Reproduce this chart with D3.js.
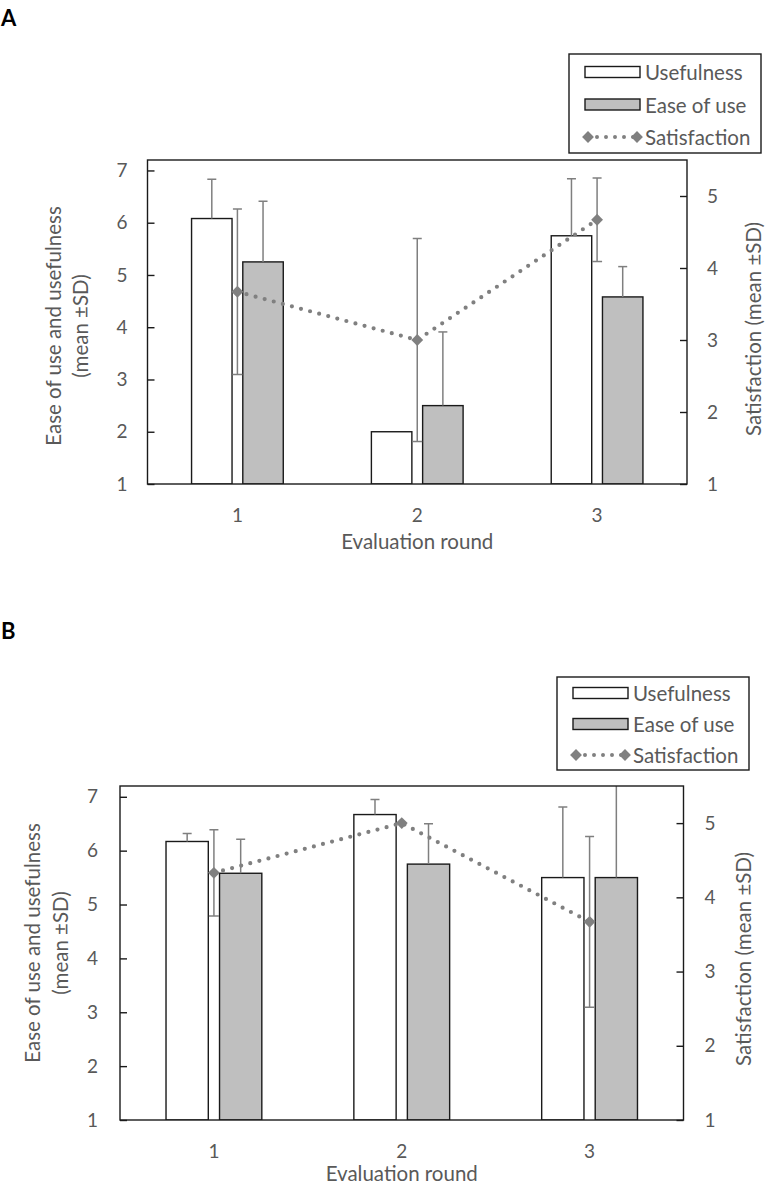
<!DOCTYPE html>
<html><head><meta charset="utf-8">
<script src="https://cdn.jsdelivr.net/npm/d3@7"></script>
<style>
html,body{margin:0;padding:0;background:#fff;}
svg{display:block;font-family:Lato,"Open Sans",sans-serif;}
</style></head>
<body>
<svg id="chart" width="767" height="1187"></svg>
<script>
// ---------- data ----------
const rounds = ["1", "2", "3"];
const seriesNames = ["Usefulness", "Ease of use", "Satisfaction"];
const leftTicks = [1, 2, 3, 4, 5, 6, 7];
const rightTicks = [1, 2, 3, 4, 5];
const xTitle = "Evaluation round";
const leftTitle1 = "Ease of use and usefulness";
const leftTitle2 = "(mean \u00B1SD)";
const rightTitle = "Satisfaction (mean \u00B1SD)";

// Panel A
const usefulnessA = [6.08, 2.0, 5.75];
const usefulnessSdA = [0.75, 0, 1.09];
const easeA = [5.25, 2.5, 4.58];
const easeSdA = [1.16, 1.41, 0.58];
const satisfactionA = [3.67, 3.0, 4.67];
const satisfactionSdA = [1.15, 1.41, 0.58];

// Panel B
const usefulnessB = [6.17, 6.67, 5.5];
const usefulnessSdB = [0.15, 0.28, 1.31];
const easeB = [5.58, 5.75, 5.5];
const easeSdB = [0.63, 0.75, 2.07];
const satisfactionB = [4.33, 5.0, 3.67];
const satisfactionSdB = [0.58, 0, 1.15];

// ---------- style ----------
const TEXT = "#595959", ERR = "#7f7f7f", GRAYFILL = "#bfbfbf", LINE = "#808080";
const svg = d3.select("#chart");

function panel(cfg) {
  const g = svg.append("g");
  const {left, right, top, bottom} = cfg;
  const x = d3.scaleBand().domain(rounds).range([left, right]);
  const bw = x.bandwidth();
  const inner = d3.scaleBand().domain(["Usefulness", "Ease of use"])
    .range([-bw * 0.255, bw * 0.255]).paddingInner(0.21);
  const yL = d3.scaleLinear().domain([1, 7.2]).range([bottom, top]);
  const yR = d3.scaleLinear().domain([1, 5.5]).range([bottom, top]);
  const cx = r => x(r) + bw / 2;

  // panel letter
  g.append("text").attr("x", 1).attr("y", cfg.letterY).text(cfg.letter)
    .attr("font-weight", "bold").attr("font-size", 22).attr("fill", "#000")
    .attr("font-family", "Lato, sans-serif");

  const clip = "clip" + cfg.letter;
  g.append("clipPath").attr("id", clip).append("rect")
    .attr("x", left).attr("y", top).attr("width", right - left).attr("height", bottom - top);

  const bars = [
    {name: "Usefulness", vals: cfg.u, sd: cfg.uSd, fill: "#fff"},
    {name: "Ease of use", vals: cfg.e, sd: cfg.eSd, fill: GRAYFILL}
  ];
  const cap = 4.5;
  const plot = g.append("g").attr("clip-path", `url(#${clip})`);
  bars.forEach(s => {
    const data = rounds.map((r, i) => ({r, v: s.vals[i], sd: s.sd[i]}));
    plot.selectAll(null).data(data).enter().append("rect")
      .attr("x", d => cx(d.r) + inner(s.name))
      .attr("width", inner.bandwidth())
      .attr("y", d => yL(d.v))
      .attr("height", d => yL(1) - yL(d.v))
      .attr("fill", s.fill).attr("stroke", "#1a1a1a").attr("stroke-width", 1.4);
    const eg = plot.selectAll(null).data(data).enter().append("g")
      .attr("stroke", ERR).attr("stroke-width", 1.5).attr("fill", "none");
    const xm = d => cx(d.r) + inner(s.name) + inner.bandwidth() / 2;
    eg.filter(d => d.sd > 0).append("line")
      .attr("x1", xm).attr("x2", xm)
      .attr("y1", d => yL(d.v)).attr("y2", d => yL(d.v + d.sd));
    eg.filter(d => d.sd > 0).append("line")
      .attr("x1", d => xm(d) - cap).attr("x2", d => xm(d) + cap)
      .attr("y1", d => yL(d.v + d.sd)).attr("y2", d => yL(d.v + d.sd));
  });

  // satisfaction
  const sData = rounds.map((r, i) => ({r, v: cfg.s[i], sd: cfg.sSd[i]}));
  const sg = plot.append("g").attr("stroke", ERR).attr("stroke-width", 1.5);
  const se = sg.selectAll(null).data(sData.filter(d => d.sd > 0)).enter().append("g");
  se.append("line").attr("x1", d => cx(d.r)).attr("x2", d => cx(d.r))
    .attr("y1", d => yR(d.v - d.sd)).attr("y2", d => yR(d.v + d.sd));
  se.append("line").attr("x1", d => cx(d.r) - cap).attr("x2", d => cx(d.r) + cap)
    .attr("y1", d => yR(d.v + d.sd)).attr("y2", d => yR(d.v + d.sd));
  se.append("line").attr("x1", d => cx(d.r) - cap - 0.5).attr("x2", d => cx(d.r) + cap + 0.5)
    .attr("y1", d => yR(d.v - d.sd)).attr("y2", d => yR(d.v - d.sd));

  const line = d3.line().x(d => cx(d.r)).y(d => yR(d.v));
  plot.append("path").datum(sData).attr("d", line)
    .attr("fill", "none").attr("stroke", LINE).attr("stroke-width", 4.2)
    .attr("stroke-linecap", "round").attr("stroke-dasharray", "0 9.4");
  const diamond = d3.symbol().type(d3.symbolSquare).size(70);
  plot.selectAll(null).data(sData).enter().append("path")
    .attr("d", diamond)
    .attr("transform", d => `translate(${cx(d.r)},${yR(d.v)}) rotate(45)`)
    .attr("fill", LINE);

  // frame
  g.append("rect").attr("x", left).attr("y", top).attr("width", right - left)
    .attr("height", bottom - top).attr("fill", "none").attr("stroke", "#1a1a1a").attr("stroke-width", 1.4);

  // axes
  const axL = g.append("g").attr("transform", `translate(${left},0)`)
    .call(d3.axisLeft(yL).tickValues(leftTicks).tickSize(-7).tickPadding(cfg.padL).tickFormat(d3.format("d")));
  const axR = g.append("g").attr("transform", `translate(${right},0)`)
    .call(d3.axisRight(yR).tickValues(rightTicks).tickSize(-7).tickPadding(cfg.padR).tickFormat(d3.format("d")));
  const axB = g.append("g").attr("transform", `translate(0,${bottom})`)
    .call(d3.axisBottom(x).tickSize(0).tickPadding(25));
  [axL, axR, axB].forEach(a => {
    a.select(".domain").remove();
    a.selectAll(".tick line").attr("stroke", "#1a1a1a").attr("stroke-width", 1.4);
    a.selectAll(".tick text").attr("fill", TEXT).attr("font-size", 19)
      .attr("font-family", "Lato, sans-serif");
  });

  // titles
  const tf = (sel) => sel.attr("fill", TEXT).attr("font-size", 20.5).attr("text-anchor", "middle")
    .attr("dominant-baseline", "central").attr("font-family", "Lato, sans-serif");
  g.append("text").attr("x", (left + right) / 2).attr("y", bottom + cfg.xtOff).text(xTitle).call(tf);
  g.append("text").attr("transform", `translate(${cfg.lt1x},${cfg.ltY}) rotate(-90)`).text(leftTitle1).call(tf);
  g.append("text").attr("transform", `translate(${cfg.lt2x},${cfg.ltY}) rotate(-90)`).text(leftTitle2).call(tf);
  g.append("text").attr("transform", `translate(${cfg.rtx},${cfg.rtY}) rotate(-90)`).text(rightTitle).call(tf);

  // legend
  const L = cfg.legend;
  const lg = g.append("g");
  lg.append("rect").attr("x", L.x).attr("y", L.y).attr("width", L.w).attr("height", L.h)
    .attr("fill", "#fff").attr("stroke", "#1a1a1a").attr("stroke-width", 1.4);
  const rows = seriesNames.map((n, i) => ({n, i}));
  const ry = i => L.y + L.r0 + i * L.dy;
  const sx0 = L.x + 16, sx1 = L.x + 71;
  rows.filter(d => d.i < 2).forEach(d => {
    lg.append("rect").attr("x", sx0).attr("y", ry(d.i) - 5.5).attr("width", sx1 - sx0).attr("height", 11)
      .attr("fill", d.i === 0 ? "#fff" : GRAYFILL).attr("stroke", "#1a1a1a").attr("stroke-width", 1.4);
  });
  lg.append("line").attr("x1", sx0 + 3).attr("x2", sx1 - 3).attr("y1", ry(2)).attr("y2", ry(2))
    .attr("stroke", LINE).attr("stroke-width", 4).attr("stroke-linecap", "round").attr("stroke-dasharray", "0 9");
  [sx0 + 3, sx1 - 3].forEach(px => lg.append("path").attr("d", diamond)
    .attr("transform", `translate(${px},${ry(2)}) rotate(45)`).attr("fill", LINE));
  lg.selectAll(null).data(rows).enter().append("text")
    .attr("x", sx1 + 5).attr("y", d => ry(d.i)).text(d => d.n)
    .attr("dominant-baseline", "central").attr("fill", TEXT).attr("font-size", 20.5)
    .attr("font-family", "Lato, sans-serif");
}

panel({letter: "A", letterY: 26, left: 147.5, right: 687, top: 160, bottom: 484,
  u: usefulnessA, uSd: usefulnessSdA, e: easeA, eSd: easeSdA, s: satisfactionA, sSd: satisfactionSdA,
  padL: 20, padR: 20, lt1x: 53, lt2x: 80, ltY: 326, rtx: 753, rtY: 329, xtOff: 57,
  legend: {x: 569, y: 54, w: 192, h: 99, r0: 18, dy: 32.5}});
panel({letter: "B", letterY: 639, left: 120, right: 683.5, top: 786, bottom: 1120,
  u: usefulnessB, uSd: usefulnessSdB, e: easeB, eSd: easeSdB, s: satisfactionB, sSd: satisfactionSdB,
  padL: 22, padR: 21, lt1x: 32, lt2x: 60, ltY: 943, rtx: 743, rtY: 959, xtOff: 53,
  legend: {x: 557, y: 677, w: 192, h: 93, r0: 16, dy: 31}});
</script>
</body></html>
